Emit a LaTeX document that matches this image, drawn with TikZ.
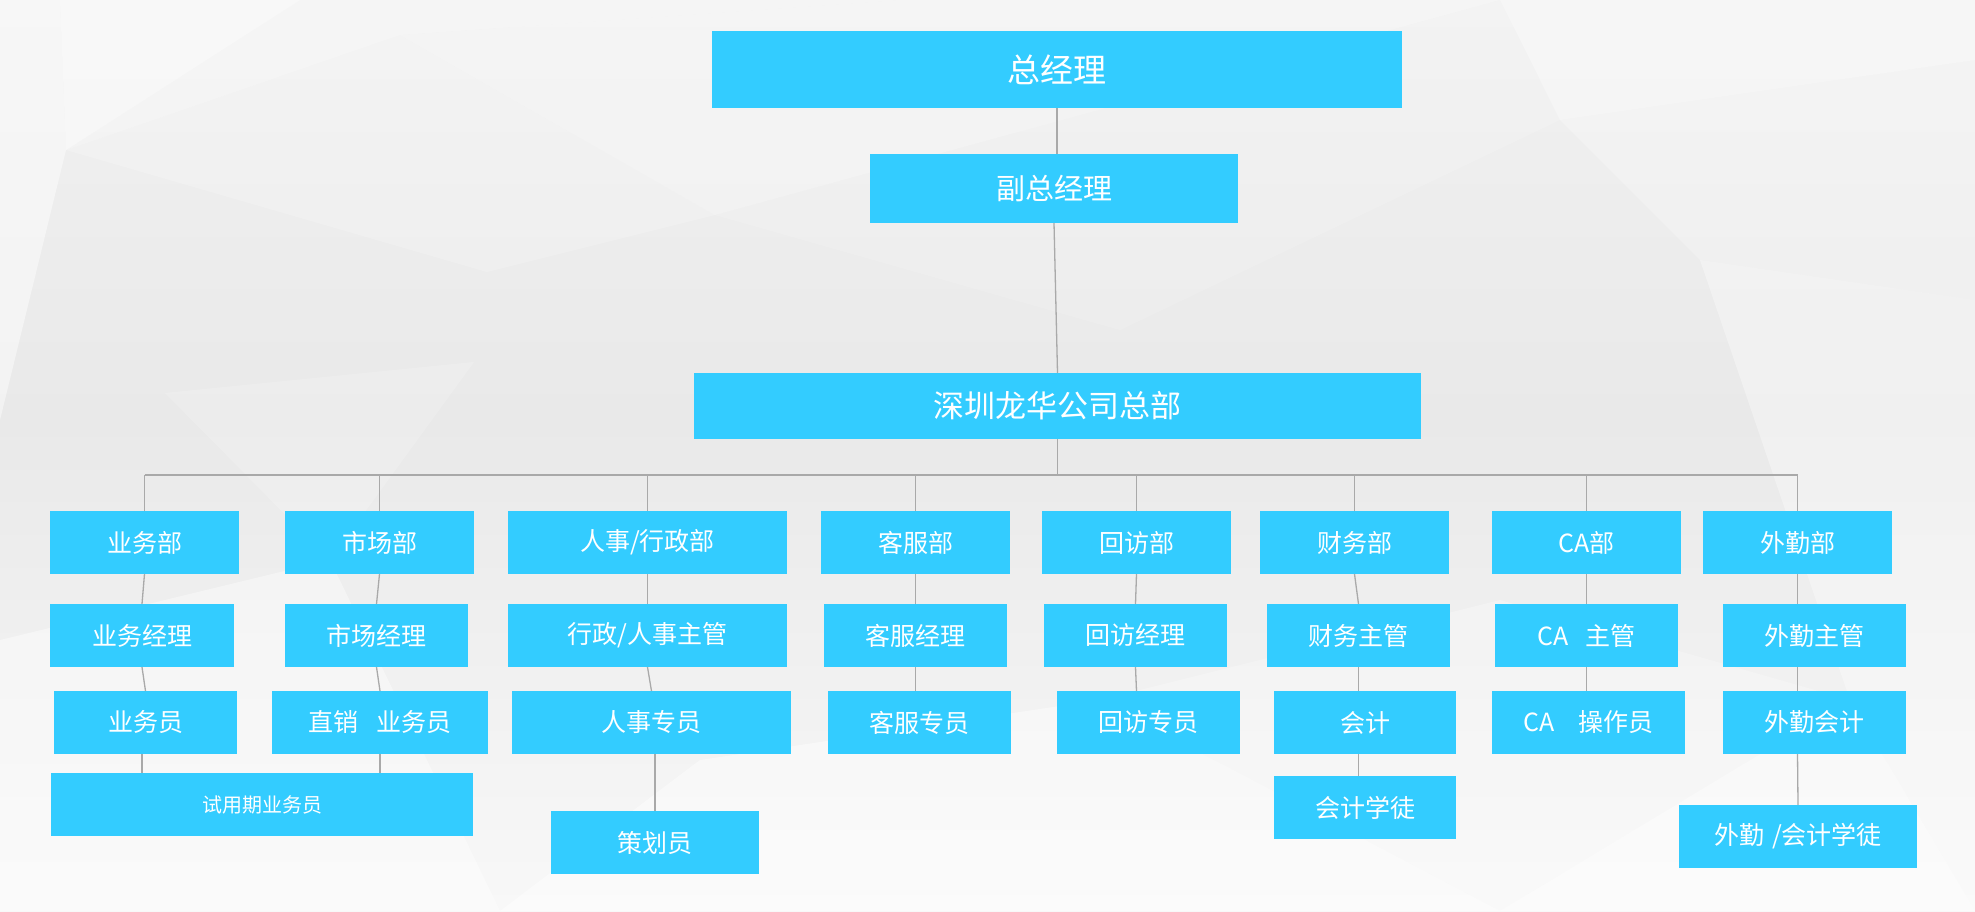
\documentclass[tikz,border=0pt]{standalone}
\usepackage{fontspec}
\setmainfont{Noto Sans CJK SC}
\definecolor{boxblue}{HTML}{33CCFF}
\definecolor{linegray}{HTML}{A9A9A9}
\definecolor{bgtop}{HTML}{F1F1F1}
\definecolor{bgmid}{HTML}{E9E9E9}
\definecolor{bgbot}{HTML}{F8F8F8}
\begin{document}
\begin{tikzpicture}[x=1pt,y=-1pt,
  box/.style={fill=boxblue,text=white,inner sep=0pt,outer sep=0pt,align=center},
  txtL/.style={font=\fontsize{25}{30}\selectfont},
  txtS/.style={font=\fontsize{20}{24}\selectfont},
  link/.style={draw=linegray,line width=1.3pt},
  poly/.style={fill=white,draw=none}
]
\useasboundingbox (0,0) rectangle (1975,911);
% background
\shade[top color=bgtop,bottom color=bgmid] (0,0) rectangle (1975,420);
\shade[top color=bgmid,bottom color=bgbot] (0,420) rectangle (1975,911);
\fill[poly,opacity=.45] (0,0) -- (60,0) -- (66,150) -- (0,420) -- cycle;
\fill[poly,opacity=.55] (60,0) -- (300,0) -- (66,150) -- cycle;
\fill[poly,opacity=.35] (300,0) -- (900,0) -- (400,35) -- (66,150) -- cycle;
\fill[poly,opacity=.20] (66,150) -- (400,35) -- (715,215) -- (487,272) -- cycle;
\fill[poly,opacity=.30] (400,35) -- (900,0) -- (1500,0) -- (715,215) -- cycle;
\fill[poly,opacity=.40] (1500,0) -- (1975,0) -- (1975,60) -- (1560,120) -- cycle;
\fill[poly,opacity=.25] (1560,120) -- (1975,60) -- (1975,300) -- (1700,260) -- cycle;
\fill[poly,opacity=.15] (715,215) -- (1500,0) -- (1560,120) -- (1120,330) -- cycle;
\fill[poly,opacity=.35] (1700,260) -- (1975,300) -- (1975,911) -- (1850,700) -- cycle;
\fill[poly,opacity=.40] (0,640) -- (330,560) -- (500,911) -- (0,911) -- cycle;
\fill[poly,opacity=.45] (500,911) -- (700,760) -- (1100,700) -- (1500,911) -- cycle;
\fill[poly,opacity=.25] (1100,700) -- (1500,600) -- (1850,700) -- (1500,911) -- cycle;
\fill[poly,opacity=.18] (165,393) -- (474,362) -- (330,560) -- cycle;
\fill[poly,opacity=.50] (1500,911) -- (1850,700) -- (1975,911) -- cycle;
% top levels
\node[box,minimum width=690pt,minimum height=77pt,font=\fontsize{33}{38}\selectfont] (zjl) at (1057,69.5) {总经理};
\node[box,minimum width=368pt,minimum height=69pt,font=\fontsize{29}{34}\selectfont] (fzjl) at (1054,188.5) {副总经理};
\node[box,minimum width=727pt,minimum height=66pt,font=\fontsize{31}{36}\selectfont] (hq) at (1057.5,406) {深圳龙华公司总部};
% row 1
\node[box,txtL,minimum width=189pt,minimum height=63pt] (yw) at (144.5,542.5) {业务部};
\node[box,txtL,minimum width=189pt,minimum height=63pt] (sc) at (379.5,542.5) {市场部};
\node[box,txtL,minimum width=279pt,minimum height=63pt] (rs) at (647.5,542.5) {人事/行政部};
\node[box,txtL,minimum width=189pt,minimum height=63pt] (kf) at (915.5,542.5) {客服部};
\node[box,txtL,minimum width=189pt,minimum height=63pt] (hf) at (1136.5,542.5) {回访部};
\node[box,txtL,minimum width=189pt,minimum height=63pt] (cw) at (1354.5,542.5) {财务部};
\node[box,txtL,minimum width=189pt,minimum height=63pt] (ca) at (1586.5,542.5) {CA部};
\node[box,txtL,minimum width=189pt,minimum height=63pt] (wq) at (1797.5,542.5) {外勤部};
% row 2
\node[box,txtL,minimum width=184pt,minimum height=63pt] (ywjl) at (142,635.5) {业务经理};
\node[box,txtL,minimum width=183pt,minimum height=63pt] (scjl) at (376.5,635.5) {市场经理};
\node[box,txtL,minimum width=279pt,minimum height=63pt] (rszg) at (647.5,635.5) {行政/人事主管};
\node[box,txtL,minimum width=183pt,minimum height=63pt] (kfjl) at (915.5,635.5) {客服经理};
\node[box,txtL,minimum width=183pt,minimum height=63pt] (hfjl) at (1135.5,635.5) {回访经理};
\node[box,txtL,minimum width=183pt,minimum height=63pt] (cwzg) at (1358.5,635.5) {财务主管};
\node[box,txtL,minimum width=183pt,minimum height=63pt] (cazg) at (1586.5,635.5) {CA\hspace{17pt}主管};
\node[box,txtL,minimum width=183pt,minimum height=63pt] (wqzg) at (1814.5,635.5) {外勤主管};
% row 3
\node[box,txtL,minimum width=183pt,minimum height=63pt] (ywy) at (145.5,722.5) {业务员};
\node[box,txtL,minimum width=216pt,minimum height=63pt] (zx) at (380,722.5) {直销\hspace{18pt}业务员};
\node[box,txtL,minimum width=279pt,minimum height=63pt] (rszy) at (651.5,722.5) {人事专员};
\node[box,txtL,minimum width=183pt,minimum height=63pt] (kfzy) at (919.5,722.5) {客服专员};
\node[box,txtL,minimum width=183pt,minimum height=63pt] (hfzy) at (1148.5,722.5) {回访专员};
\node[box,txtL,minimum width=182pt,minimum height=63pt] (kj) at (1365,722.5) {会计};
\node[box,txtL,minimum width=193pt,minimum height=63pt] (caczy) at (1588.5,722.5) {CA\hspace{24pt}操作员};
\node[box,txtL,minimum width=183pt,minimum height=63pt] (wqkj) at (1814.5,722.5) {外勤会计};
% row 4
\node[box,txtS,minimum width=422pt,minimum height=63pt] (syq) at (262,804.5) {试用期业务员};
\node[box,txtL,minimum width=208pt,minimum height=63pt] (chy) at (655,842.5) {策划员};
\node[box,txtL,minimum width=182pt,minimum height=63pt] (kjxt) at (1365,807.5) {会计学徒};
\node[box,txtL,minimum width=238pt,minimum height=63pt] (wqxt) at (1798,836.5) {外勤\hspace{8pt}/会计学徒};
% connectors top
\draw[link] (zjl.south) -- (zjl.south |- fzjl.north);
\draw[link] (fzjl.south) -- (hq.north);
\coordinate (busL) at (144.5,475);
\coordinate (busR) at (1797.5,475);
\draw[link] (hq.south) -- (hq.south |- busL);
\draw[link] (busL) -- (busR);
\foreach \d in {yw,sc,rs,kf,hf,cw,ca,wq}{
  \draw[link] (\d.north) -- (\d.north |- busL);
}
% chains
\draw[link] (yw.south) -- (ywjl.north);
\draw[link] (ywjl.south) -- (ywy.north);
\draw[link] (ywjl.south |- ywy.south) -- (ywjl.south |- syq.north);
\draw[link] (sc.south) -- (scjl.north);
\draw[link] (scjl.south) -- (zx.north);
\draw[link] (zx.south) -- (zx.south |- syq.north);
\draw[link] (rs.south) -- (rszg.north);
\draw[link] (rszg.south) -- (rszy.north);
\draw[link] (chy.north |- rszy.south) -- (chy.north);
\draw[link] (kf.south) -- (kfjl.north);
\draw[link] (kfjl.south) -- (kf.south |- kfzy.north);
\draw[link] (hf.south) -- (hfjl.north);
\draw[link] (hfjl.south) -- (hf.south |- hfzy.north);
\draw[link] (cw.south) -- (cwzg.north);
\draw[link] (cwzg.south) -- (cwzg.south |- kj.north);
\draw[link] (cwzg.south |- kj.south) -- (cwzg.south |- kjxt.north);
\draw[link] (ca.south) -- (cazg.north);
\draw[link] (cazg.south) -- (cazg.south |- caczy.north);
\draw[link] (wq.south) -- (wq.south |- wqzg.north);
\draw[link] (wq.south |- wqzg.south) -- (wq.south |- wqkj.north);
\draw[link] (wq.south |- wqkj.south) -- (wqxt.north);
\end{tikzpicture}
\end{document}
